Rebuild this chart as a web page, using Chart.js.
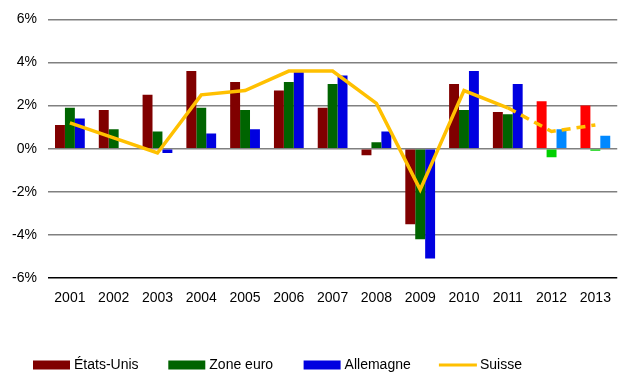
<!DOCTYPE html>
<html>
<head>
<meta charset="utf-8">
<script src="https://cdn.jsdelivr.net/npm/chart.js@4"></script>
<style>
  html, body { margin: 0; padding: 0; background: #fff; overflow: hidden; }
  #wrap { width: 619px; height: 375px; overflow: hidden; }
</style>
</head>
<body>
<div id="wrap"><canvas id="croissance" width="623" height="375"></canvas></div>
<script>
// Croissance du PIB réel, en %
var annees = ['2001', '2002', '2003', '2004', '2005', '2006', '2007', '2008', '2009', '2010', '2011', '2012', '2013'];
var etatsUnis = [1.1, 1.8, 2.5, 3.6, 3.1, 2.7, 1.9, -0.3, -3.5, 3.0, 1.7, 2.2, 2.0];
var zoneEuro = [1.9, 0.9, 0.8, 1.9, 1.8, 3.1, 3.0, 0.3, -4.2, 1.8, 1.6, -0.4, -0.1];
var allemagne = [1.4, 0.0, -0.2, 0.7, 0.9, 3.6, 3.4, 0.8, -5.1, 3.6, 3.0, 0.9, 0.6];
var suisse = [1.2, 0.5, -0.2, 2.5, 2.7, 3.6, 3.6, 2.1, -1.9, 2.7, 1.9, 0.8, 1.1];
var yTicks = [-6, -4, -2, 0, 2, 4, 6];

// 2012 et 2013 sont des prévisions : couleurs plus vives
var nbPrevisions = 2;
function couleurs(base, prevision) {
  return annees.map(function (_, i) {
    return i >= annees.length - nbPrevisions ? prevision : base;
  });
}

var police = "'Liberation Sans', Arial, sans-serif";

// Légende en colonnes de largeur fixe sous le graphique
var legendeFixe = {
  id: 'legendeFixe',
  afterDraw: function (chart) {
    var ctx = chart.ctx;
    ctx.save();
    ctx.font = '14px ' + police;
    ctx.textBaseline = 'middle';
    var y = 365;
    chart.data.datasets.forEach(function (ds, i) {
      var x = 33 + i * 135.3;
      if (ds.type === 'line') {
        ctx.strokeStyle = ds.borderColor;
        ctx.lineWidth = 3;
        ctx.beginPath();
        ctx.moveTo(x, y);
        ctx.lineTo(x + 38, y);
        ctx.stroke();
      } else {
        ctx.fillStyle = ds.legendColor;
        ctx.fillRect(x, y - 4.5, 37, 9);
      }
      ctx.fillStyle = '#000';
      ctx.fillText(ds.label, x + 41, y);
    });
    ctx.restore();
  }
};

var ctx = document.getElementById('croissance').getContext('2d');
new Chart(ctx, {
  type: 'bar',
  data: {
    labels: annees,
    datasets: [
      {
        label: 'États-Unis',
        data: etatsUnis,
        backgroundColor: couleurs('#800000', '#ff0000'),
        legendColor: '#800000',
        order: 1
      },
      {
        label: 'Zone euro',
        data: zoneEuro,
        backgroundColor: couleurs('#006400', '#00d000'),
        legendColor: '#006400',
        order: 1
      },
      {
        label: 'Allemagne',
        data: allemagne,
        backgroundColor: couleurs('#0000e0', '#0088ff'),
        legendColor: '#0000e0',
        order: 1
      },
      {
        type: 'line',
        label: 'Suisse',
        data: suisse,
        borderColor: '#ffc000',
        borderWidth: 3.5,
        pointRadius: 0,
        tension: 0,
        order: 0,
        segment: {
          borderDash: function (c) { return c.p0DataIndex >= annees.length - nbPrevisions - 1 ? [9, 6] : undefined; }
        }
      }
    ]
  },
  options: {
    responsive: false,
    animation: false,
    datasets: {
      bar: { categoryPercentage: 0.68, barPercentage: 1.0 }
    },
    layout: { padding: { top: 19, right: 2, left: 0, bottom: 0 } },
    plugins: {
      legend: { display: false },
      tooltip: { enabled: false }
    },
    scales: {
      x: {
        grid: { display: false, drawTicks: false },
        border: { display: false },
        ticks: { color: '#000', font: { family: police, size: 14 }, padding: 12, maxRotation: 0 },
        afterFit: function (s) { s.height = 97; }
      },
      y: {
        min: -6,
        max: 6,
        afterBuildTicks: function (s) { s.ticks = yTicks.map(function (v) { return { value: v }; }); },
        grid: {
          color: function (c) { return c.tick && c.tick.value === -6 ? '#000' : '#808080'; },
          lineWidth: 1.5,
          drawTicks: false
        },
        border: { display: false },
        ticks: {
          color: '#000',
          font: { family: police, size: 14 },
          padding: 11,
          callback: function (v) { return v + '%'; }
        },
        afterFit: function (s) { s.width = 48; }
      }
    }
  },
  plugins: [legendeFixe]
});
</script>
</body>
</html>
